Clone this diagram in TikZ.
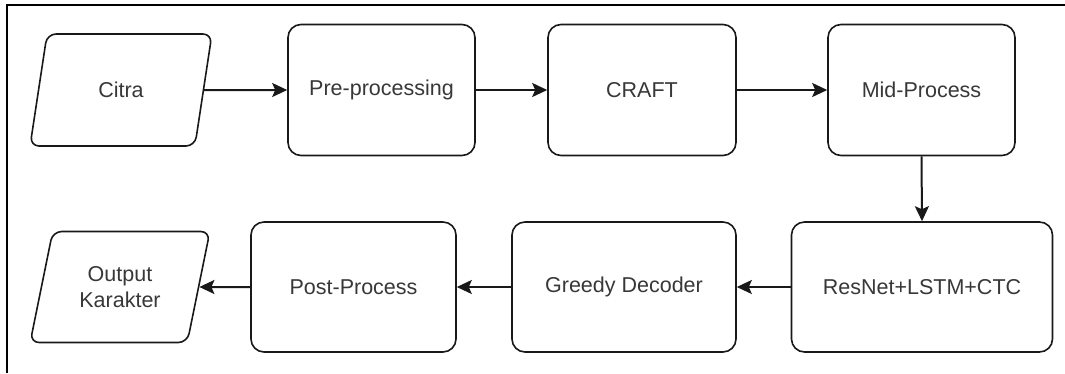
\documentclass[tikz,border=0pt]{standalone}
\usepackage{fontspec}
\setmainfont{Liberation Sans}
\usetikzlibrary{arrows.meta,shapes.geometric}
\definecolor{ink}{gray}{0.10}
\definecolor{txt}{gray}{0.22}
\tikzset{
  procbox/.style={draw=ink, line width=1.6pt, rounded corners=13pt, fill=white,
    minimum height=131pt, inner sep=0pt},
  iobox/.style={draw=ink, line width=1.6pt, rounded corners=9pt, fill=white,
    trapezium, trapezium stretches=true, trapezium left angle=71.7,
    trapezium right angle=108.3, minimum width=182pt, minimum height=112pt,
    inner sep=0pt, align=center},
  connarrow/.style={draw=ink, line width=2pt, -{Stealth[length=15pt,width=14pt,inset=3pt]}}
}
\begin{document}
\begin{tikzpicture}[x=1pt,y=-1pt,
  every node/.style={font=\fontsize{21.5}{26}\selectfont, text=txt}]
\useasboundingbox (0,0) rectangle (1065,373);
% partial frame (top and left edges)
\coordinate (frameTR) at (1065,5);
\coordinate (frameTL) at (7,5);
\coordinate (frameBL) at (7,373);
\draw[line width=2.6pt, black] (frameTR) -- (frameTL) -- (frameBL);

\node[iobox] (citra) at (121,90) {Citra};
\node[procbox, minimum width=187pt] (pre) at (381.5,90) {Pre-processing};
\node[procbox, minimum width=188pt] (craft) at (642,90) {CRAFT};
\node[procbox, minimum width=187pt] (mid) at (921.5,90) {Mid-Process};

\node[procbox, minimum width=261pt, minimum height=130pt] (resnet) at (922,287) {ResNet+LSTM+CTC};
\node[procbox, minimum width=224pt, minimum height=130pt] (greedy) at (624,287) {Greedy Decoder};
\node[procbox, minimum width=205pt, minimum height=130pt] (post) at (353.5,287) {Post-Process};
\node[iobox, minimum width=180pt, minimum height=111pt] (out) at (120,287) {Output\\Karakter};

\draw[connarrow] (citra.east) -- (pre.west);
\draw[connarrow] (pre.east) -- (craft.west);
\draw[connarrow] (craft.east) -- (mid.west);
\draw[connarrow] (mid.south) -- (resnet.north);
\draw[connarrow] (resnet.west) -- (greedy.east);
\draw[connarrow] (greedy.west) -- (post.east);
\draw[connarrow] (post.west) -- (out.east);
\end{tikzpicture}
\end{document}
